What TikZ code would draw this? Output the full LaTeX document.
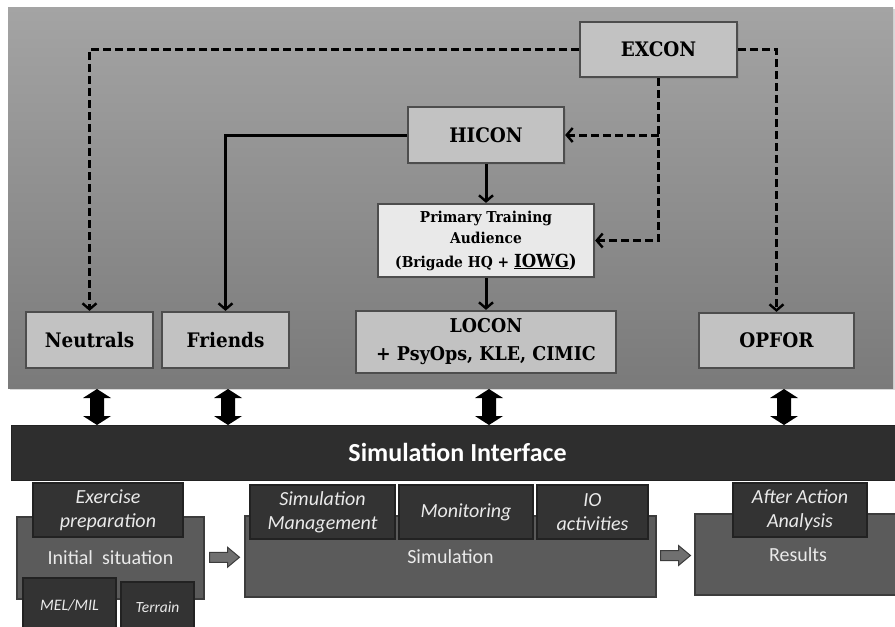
\documentclass[tikz,border=0pt]{standalone}
\usepackage{fontspec}
\setmainfont{Carlito}
\newfontfamily\boxserif[FakeStretch=0.92]{DejaVu Serif}
\usetikzlibrary{arrows.meta,shadows,calc}

\definecolor{panelTop}{HTML}{A4A4A4}
\definecolor{panelBot}{HTML}{7A7A7A}
\definecolor{boxFill}{HTML}{C2C2C2}
\definecolor{boxLine}{HTML}{4D4D4D}
\definecolor{ptaFill}{HTML}{E9E9E9}
\definecolor{darkFill}{HTML}{333333}
\definecolor{darkLine}{HTML}{222222}
\definecolor{midFill}{HTML}{5B5B5B}
\definecolor{midLine}{HTML}{3C3C3C}
\definecolor{barFill}{HTML}{2E2E2E}
\definecolor{lightText}{HTML}{EAEAEA}
\definecolor{arrowGray}{HTML}{707070}

\tikzset{
  panelbox/.style={draw=none, top color=panelTop, bottom color=panelBot, inner sep=0,
    drop shadow={opacity=0.3, shadow xshift=2pt, shadow yshift=-2pt}},
  topbox/.style={draw=boxLine, line width=2.2pt, fill=boxFill, inner sep=0, align=center,
    font=\boxserif\bfseries\fontsize{20}{27}\selectfont,
    drop shadow={opacity=0.35, shadow xshift=2pt, shadow yshift=-2pt}},
  barbox/.style={fill=barFill, draw=darkLine, line width=1pt, inner sep=0, text=white,
    font=\bfseries\fontsize{26}{30}\selectfont},
  stagebox/.style={fill=midFill, draw=midLine, line width=1.5pt, inner sep=0, text=lightText,
    font=\fontsize{20}{24}\selectfont, align=center},
  subbox/.style={fill=darkFill, draw=darkLine, line width=1.2pt, inner sep=0, text=lightText,
    font=\itshape\fontsize{20}{24}\selectfont, align=center},
  dashln/.style={draw=black, line width=3pt, dash pattern=on 8pt off 4pt,
    -{Straight Barb[length=6pt,width=14pt,line width=2.4pt]}},
  solidln/.style={draw=black, line width=3pt,
    -{Straight Barb[length=6pt,width=14pt,line width=2.4pt]}},
  dblarrow/.pic={\fill[black] (0,-18) -- (14,-9) -- (7,-9) -- (7,9) -- (14,9) -- (0,18)
    -- (-14,9) -- (-7,9) -- (-7,-9) -- (-14,-9) -- cycle;},
  flowarrow/.pic={\draw[fill=arrowGray, draw=midLine, line width=1pt]
    (-15,-5) -- (3,-5) -- (3,-10) -- (15,0) -- (3,10) -- (3,5) -- (-15,5) -- cycle;}
}

\begin{document}
\begin{tikzpicture}[x=1pt,y=-1pt]
\useasboundingbox (0,0) rectangle (895,627);
\clip (0,0) rectangle (895,627);
\fill[white] (0,0) rectangle (895,627);

% upper exercise-control panel
\node[panelbox, minimum width=885pt, minimum height=381pt] (panel) at (450.5,197.5) {};

\node[topbox, minimum width=157pt, minimum height=55pt] (excon) at (658.5,49.5) {EXCON};
\node[topbox, minimum width=156pt, minimum height=56pt] (hicon) at (486,135) {HICON};
\node[topbox, fill=ptaFill, minimum width=216pt, minimum height=73pt,
      font=\boxserif\bfseries\fontsize{15}{21}\selectfont] (pta) at (486,240.5)
  {Primary Training\\Audience\\[3pt](Brigade HQ + {\fontsize{18}{20}\selectfont\underline{IOWG})}};
\node[topbox, minimum width=260pt, minimum height=62pt,
      font=\boxserif\bfseries\fontsize{19}{28}\selectfont] (locon) at (486,342)
  {LOCON\\+ PsyOps, KLE, CIMIC};
\node[topbox, minimum width=127pt, minimum height=56pt] (neutrals) at (89.5,340) {Neutrals};
\node[topbox, minimum width=127pt, minimum height=56pt] (friends) at (225.5,340) {Friends};
\node[topbox, minimum width=155pt, minimum height=55pt] (opfor) at (776.5,340.5) {OPFOR};

% control relations
\draw[dashln] (excon.west) -| (neutrals.north);
\draw[dashln] (excon.east) -| (opfor.north);
\draw[dashln] (excon.south) |- (pta.east);
\draw[dashln] (excon.south |- hicon.east) -- (hicon.east);
\draw[solidln] (hicon.west) -| (friends.north);
\draw[solidln] (hicon.south) -- (pta.north);
\draw[solidln] (pta.south) -- (locon.north);

% simulation interface bar
\node[barbox, minimum width=893pt, minimum height=55pt] (simif) at (457.5,452.5) {Simulation Interface};

% exchanges between the panel and the interface
\foreach \ax in {97,228,489,784} {
  \pic at (\ax,407) {dblarrow};
}

% simulation stages
\node[stagebox, minimum width=187pt, minimum height=82pt] (init) at (110.5,558) {Initial\ \ situation};
\node[stagebox, minimum width=411pt, minimum height=81pt] (sim) at (450.5,556.5) {Simulation};
\node[stagebox, minimum width=206pt, minimum height=81pt] (results) at (798,554.5) {Results};

\node[subbox, minimum width=150pt, minimum height=54pt] (prep) at (108,510) {Exercise\\preparation};
\node[subbox, minimum width=93pt, minimum height=54pt, font=\itshape\fontsize{16}{20}\selectfont] (mel) at (69.5,605) {MEL/MIL};
\node[subbox, minimum width=73pt, minimum height=50pt, font=\itshape\fontsize{15.5}{20}\selectfont] (terrain) at (157.5,607) {Terrain};

\node[subbox, minimum width=145pt, minimum height=54pt] (mgmt) at (322.5,512) {Simulation\\Management};
\node[subbox, minimum width=134pt, minimum height=54pt] (monit) at (466,512) {Monitoring};
\node[subbox, minimum width=111pt, minimum height=54pt] (io) at (592.5,512) {IO\\activities};
\node[subbox, minimum width=134pt, minimum height=54pt] (aaa) at (800,510) {After Action\\Analysis};

% flow between stages
\pic at ($(init.east)!0.5!(sim.west)$) {flowarrow};
\pic at ($(sim.east)!0.5!(results.west)$) {flowarrow};
\end{tikzpicture}
\end{document}
